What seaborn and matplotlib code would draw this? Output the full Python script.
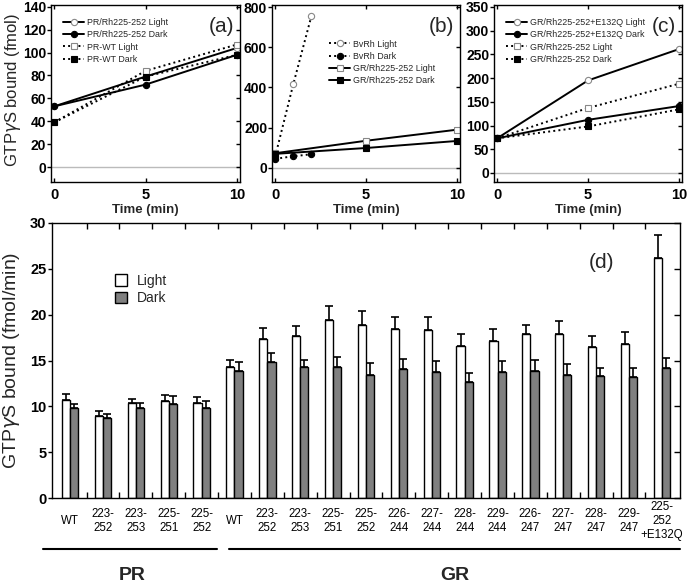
import numpy as np
import pandas as pd
import seaborn as sns
import matplotlib
matplotlib.use("Agg")
import matplotlib.pyplot as plt
from matplotlib.ticker import MultipleLocator, FixedLocator
from matplotlib.patches import Patch

sns.set_theme(style="white")
plt.rcParams['font.family'] = ['Liberation Sans', 'DejaVu Sans']

# ---------------- data ----------------
time_a = [0, 5, 10]
a_rh_light = [53, 79, 104]
a_rh_dark = [53, 72, 98]
a_wt_light = [39, 84, 107]
a_wt_dark = [39, 79, 98]

time_bv = [0, 1, 2]
b_bv_light = [55, 416, 756]
b_bv_dark = [45, 58, 68]
time_b = [0, 5, 10]
b_gr_light = [73, 135, 190]
b_gr_dark = [70, 99, 134]

time_c = [0, 5, 10]
c_e_light = [73, 195, 261]
c_e_dark = [73, 112, 141]
c_gr_light = [73, 137, 188]
c_gr_dark = [73, 98, 134]

d_labels = ["WT", "223-\n252", "223-\n253", "225-\n251", "225-\n252",
            "WT", "223-\n252", "223-\n253", "225-\n251", "225-\n252",
            "226-\n244", "227-\n244", "228-\n244", "229-\n244",
            "226-\n247", "227-\n247", "228-\n247", "229-\n247",
            "225-\n252\n+E132Q"]
d_light = [10.7, 8.9, 10.4, 10.6, 10.4,
           14.3, 17.3, 17.7, 19.4, 18.9, 18.4, 18.3, 16.6, 17.1,
           17.9, 17.9, 16.5, 16.8, 26.2]
d_light_err = [0.7, 0.6, 0.4, 0.6, 0.6,
               0.8, 1.2, 1.1, 1.5, 1.5, 1.3, 1.4, 1.3, 1.3,
               1.0, 1.4, 1.2, 1.3, 2.5]
d_dark = [9.8, 8.7, 9.8, 10.3, 9.8,
          13.9, 14.8, 14.3, 14.3, 13.4, 14.1, 13.7, 12.7, 13.8,
          13.9, 13.4, 13.3, 13.2, 14.2]
d_dark_err = [0.5, 0.5, 0.6, 0.8, 0.8,
              0.9, 1.0, 0.8, 1.1, 1.3, 1.1, 1.2, 0.9, 1.1,
              1.2, 1.2, 0.9, 1.0, 1.1]
groups = ["PR", "GR"]

W, H = 689, 586
fig = plt.figure(figsize=(W / 100, H / 100), dpi=100)


def frac(l, t, r, b):
    return [l / W, 1 - b / H, (r - l) / W, (b - t) / H]


ax_a = fig.add_axes(frac(51, 5, 240, 182))
ax_b = fig.add_axes(frac(272, 5, 460, 182))
ax_c = fig.add_axes(frac(494, 5, 682, 182))
ax_d = fig.add_axes(frac(52, 223, 680, 498))


def style_top(ax, ylim, ymajor, label):
    for s in ax.spines.values():
        s.set_color("black")
        s.set_linewidth(1.0)
    ax.set_xlim(-0.17, 10.17)
    ax.set_ylim(*ylim)
    ax.xaxis.set_major_locator(FixedLocator([0, 5, 10]))
    ax.yaxis.set_major_locator(MultipleLocator(ymajor))
    ax.tick_params(axis="y", which="major", left=True, right=True, direction="out",
                   length=3, width=1, labelsize=10, pad=0.5, colors="black")
    ax.tick_params(axis="x", which="major", bottom=True, top=True, direction="in",
                   length=3, width=1, labelsize=10.5, pad=4, colors="black")
    for lab in ax.get_xticklabels() + ax.get_yticklabels():
        lab.set_fontweight("bold")
    for t in ax.yaxis.get_major_ticks():
        t.tick2line.set_marker(matplotlib.lines.TICKLEFT)
    ax.axhline(0, color="#bbbbbb", lw=1.0, zorder=0)
    ax.set_xlabel("Time (min)", fontsize=9.5, fontweight="bold", labelpad=2)
    ax.text(0.97, 0.93, label, transform=ax.transAxes, ha="right", va="top", fontsize=15)
    ax.grid(False)


def line(ax, x, y, ls, marker, mfc, lab, ms=4.5):
    sns.lineplot(x=x, y=y, ax=ax, color="black", linestyle=ls, marker=marker,
                 markerfacecolor=mfc, markeredgecolor="black" if mfc == "black" else "#888888",
                 markersize=ms, linewidth=1.4, label=lab, markeredgewidth=0.8)


leg_kw = dict(frameon=False, fontsize=6.4, handlelength=2.4, handletextpad=0.3,
              labelspacing=0.35, borderpad=0.2, loc="upper left")

# panel (a)
line(ax_a, time_a, a_rh_light, "-", "o", "white", "PR/Rh225-252 Light")
line(ax_a, time_a, a_rh_dark, "-", "o", "black", "PR/Rh225-252 Dark")
line(ax_a, time_a, a_wt_light, ":", "s", "white", "PR-WT Light")
line(ax_a, time_a, a_wt_dark, ":", "s", "black", "PR-WT Dark")
style_top(ax_a, (-13, 141.5), 20, "(a)")
ax_a.set_ylabel("GTP$\\gamma$S bound (fmol)", fontsize=12)
ax_a.yaxis.set_label_coords(-0.15, 0.52)
ax_a.legend(bbox_to_anchor=(0.03, 0.96), **leg_kw)

# panel (b)
line(ax_b, time_bv, b_bv_light, ":", "o", "white", "BvRh Light")
line(ax_b, time_bv, b_bv_dark, ":", "o", "black", "BvRh Dark")
line(ax_b, time_b, b_gr_light, "-", "s", "white", "GR/Rh225-252 Light")
line(ax_b, time_b, b_gr_dark, "-", "s", "black", "GR/Rh225-252 Dark")
style_top(ax_b, (-70, 810), 200, "(b)")
ax_b.set_ylabel("")
ax_b.legend(bbox_to_anchor=(0.27, 0.84), **leg_kw)

# panel (c)
line(ax_c, time_c, c_e_light, "-", "o", "white", "GR/Rh225-252+E132Q Light")
line(ax_c, time_c, c_e_dark, "-", "o", "black", "GR/Rh225-252+E132Q Dark")
line(ax_c, time_c, c_gr_light, ":", "s", "white", "GR/Rh225-252 Light")
line(ax_c, time_c, c_gr_dark, ":", "s", "black", "GR/Rh225-252 Dark")
style_top(ax_c, (-19, 354), 50, "(c)")
ax_c.set_ylabel("")
ax_c.legend(bbox_to_anchor=(0.03, 0.96), **leg_kw)

# panel (d)
n = len(d_labels)
cats = [f"c{i}" for i in range(n)]
df = pd.DataFrame({
    "cat": cats * 2,
    "cond": ["Light"] * n + ["Dark"] * n,
    "val": d_light + d_dark,
})
sns.barplot(data=df, x="cat", y="val", hue="cond", order=cats, hue_order=["Light", "Dark"],
            palette={"Light": "white", "Dark": "#808080"}, edgecolor="black", linewidth=1.0,
            width=0.5, errorbar=None, ax=ax_d, legend=False, saturation=1)
xs = np.arange(n)
off = 0.125
ax_d.errorbar(xs - off, d_light, yerr=[np.zeros(n), d_light_err], fmt="none",
              ecolor="black", elinewidth=1.2, capsize=3, capthick=1.2, zorder=1)
ax_d.errorbar(xs + off, d_dark, yerr=[np.zeros(n), d_dark_err], fmt="none",
              ecolor="black", elinewidth=1.2, capsize=3, capthick=1.2, zorder=1)
for p in ax_d.patches:
    p.set_zorder(2)

ax_d.set_xlim(-0.55, n - 0.45)
ax_d.set_ylim(0, 30)
for s in ax_d.spines.values():
    s.set_color("black")
    s.set_linewidth(1.0)
ax_d.yaxis.set_major_locator(MultipleLocator(5))
ax_d.set_xticks(xs)
ax_d.set_xticklabels(d_labels, fontsize=8.3, linespacing=1.25)
for lab in ax_d.get_xticklabels():
    lab.set_verticalalignment("center")
ax_d.xaxis.set_minor_locator(FixedLocator(np.arange(0.5, n - 0.5, 1.0)))
ax_d.tick_params(axis="x", which="major", length=0, pad=16.5, colors="black")
ax_d.tick_params(axis="x", which="minor", bottom=True, top=True, direction="in",
                 length=4, width=1, color="black")
ax_d.tick_params(axis="y", which="major", left=True, right=True, direction="out",
                 length=3, width=1, labelsize=10.5, pad=1, colors="black")
for t in ax_d.yaxis.get_major_ticks():
    t.tick2line.set_marker(matplotlib.lines.TICKLEFT)
    t.tick2line.set_markersize(4)
for lab in ax_d.get_yticklabels():
    lab.set_fontweight("bold")
ax_d.set_xlabel("")
ax_d.set_ylabel("GTP$\\gamma$S bound (fmol/min)", fontsize=14, labelpad=6)
ax_d.grid(False)
ax_d.text(0.875, 0.858, "(d)", transform=ax_d.transAxes, ha="center", va="center", fontsize=15)
handles = [Patch(facecolor="white", edgecolor="black", label="Light"),
           Patch(facecolor="#808080", edgecolor="black", label="Dark")]
ax_d.legend(handles=handles, loc="upper left", bbox_to_anchor=(0.08, 0.86), frameon=False,
            fontsize=10, handlelength=0.9, handleheight=0.9, handletextpad=0.7, labelspacing=0.25)

# group brackets
fig.add_artist(plt.Line2D([43 / W, 217 / W], [1 - 549 / H] * 2, color="black", lw=1.5))
fig.add_artist(plt.Line2D([229 / W, 680 / W], [1 - 549 / H] * 2, color="black", lw=1.5))
fig.text(132 / W, 1 - 575 / H, groups[0], ha="center", va="center", fontsize=14, fontweight="bold")
fig.text(455 / W, 1 - 575 / H, groups[1], ha="center", va="center", fontsize=14, fontweight="bold")

fig.savefig("out.png", dpi=100)
